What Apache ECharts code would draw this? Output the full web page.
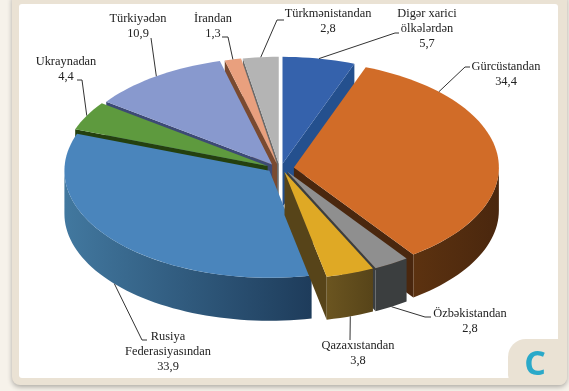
<!DOCTYPE html>
<html><head><meta charset="utf-8">
<style>html,body{margin:0;padding:0;background:#f6f2ea}#c{width:569px;height:391px}</style>
<script src="https://cdn.jsdelivr.net/npm/echarts@6/dist/echarts.min.js"></script>
</head><body><div id="c"></div>
<script>
const categories = ["Digər xarici\nölkələrdən","Gürcüstandan","Özbəkistandan","Qazaxıstandan","Rusiya\nFederasiyasından","Ukraynadan","Türkiyədən","İrandan","Türkmənistandan"];
const values = [5.7,34.4,2.8,3.8,33.9,4.4,10.9,1.3,2.8];
const valueLabels = ["5,7","34,4","2,8","3,8","33,9","4,4","10,9","1,3","2,8"];

const topColors = ["#3562ac","#d16c28","#8f8f8f","#dfa925","#4a85bc","#5e9a3e","#8899ce","#e9a07e","#b4b4b4"];
const wallColors = [["#24508e","#24508e"],["#5c3210","#4a270e"],["#3b3e3f","#3b3e3f"],["#6b5520","#574419"],["#42789f","#1e3c5b"],["#24400f","#24400f"],["#3d4a75","#3d4a75"],["#7a4a30","#7a4a30"],["#6a6a6a","#6a6a6a"]];
// geometry of the projected pie
const P = {cx:280,cy:168,a:205,b:107,depth:43,ex:14,ey:4.2};
// label placement: text centre, first line y, leader elbow points, optional anchor angle on the rim
const labelLayout = [
 {x:427,y:14,path:[[395,33],[399,33]]},
 {x:506,y:67,path:[[465,67],[470,67]],anchor:45},
 {x:470,y:314,path:[[425,317],[431,317]]},
 {x:358,y:346,path:[[350,340]]},
 {x:168,y:337,path:[[142,340],[147,340]]},
 {x:66,y:62,path:[[82,80],[77,80]]},
 {x:138,y:19,path:[[151,38]]},
 {x:213,y:19,path:[[228,37],[222,37]]},
 {x:328,y:14,path:[[277,20],[284,20]]}
];

const total = values.reduce((s,v)=>s+v,0);
const rad = d=>d*Math.PI/180;
let acc = 0;
const slices = values.map((v,i)=>{
  const t0 = acc/total*360; acc += v; const t1 = acc/total*360; const mid=(t0+t1)/2;
  return {i,t0,t1,mid,ax:P.cx+P.ex*Math.sin(rad(mid)),ay:P.cy-P.ey*Math.cos(rad(mid))};
});
const pt = (s,t,dy)=>[s.ax+P.a*Math.sin(rad(t)), s.ay-P.b*Math.cos(rad(t))+(dy||0)];
const arc = (s,t0,t1,dy)=>{const r=[];const n=Math.max(2,Math.ceil((t1-t0)/2));for(let k=0;k<=n;k++)r.push(pt(s,t0+(t1-t0)*k/n,dy));return r;};
const order = slices.slice().sort((p,q)=>Math.cos(rad(q.mid))-Math.cos(rad(p.mid)));

function renderSlice(params,api){
  const s = order[params.dataIndex], ch=[], d=P.depth, w=wallColors[s.i];
  const apex=[s.ax,s.ay], apexB=[s.ax,s.ay+d];
  const poly=(points,fill)=>ch.push({type:'polygon',shape:{points},style:{fill},silent:true});
  if(Math.sin(rad(s.t0))<0){const a=pt(s,s.t0);poly([apex,a,[a[0],a[1]+d],apexB],w[0]);}
  if(Math.sin(rad(s.t1))>0){const a=pt(s,s.t1);poly([apex,a,[a[0],a[1]+d],apexB],w[1]);}
  const r0=Math.max(s.t0,90), r1=Math.min(s.t1,270);
  if(r1>r0){
    const top=arc(s,r0,r1), bot=arc(s,r0,r1,d).reverse();
    poly(top.concat(bot),new echarts.graphic.LinearGradient(0,0,1,0,[{offset:0,color:w[0]},{offset:1,color:w[1]}]));
  }
  poly([apex].concat(arc(s,s.t0,s.t1)),topColors[s.i]);
  return {type:'group',children:ch};
}
function renderLabel(params,api){
  const i=params.dataIndex, s=slices[i], L=labelLayout[i];
  const t=L.anchor!==undefined?L.anchor:s.mid;
  const front=Math.cos(rad(t))<0;
  const start=pt(s,t,front?P.depth:0);
  const lines=categories[i].split("\n").concat([valueLabels[i]]);
  const ch=[{type:'polyline',shape:{points:[start].concat(L.path)},style:{stroke:'#333',lineWidth:1,fill:null},silent:true}];
  lines.forEach((tx,k)=>ch.push({type:'text',style:{text:tx,x:L.x,y:L.y+k*14.7,align:'center',verticalAlign:'middle',font:'12.4px "Liberation Serif"',fill:'#222'},silent:true}));
  return {type:'group',children:ch};
}
const chart = echarts.init(document.getElementById('c'),null,{renderer:'canvas'});
chart.setOption({
  animation:false,
  backgroundColor:'#f6f2ea',
  graphic:{elements:[
    {type:'rect',z:0,shape:{x:12,y:-8,width:555,height:393,r:8},style:{fill:'#eae2d4',shadowBlur:5,shadowColor:'rgba(0,0,0,0.3)',shadowOffsetY:2},silent:true},
    {type:'rect',z:1,shape:{x:19,y:4,width:539,height:374,r:3},style:{fill:'#ffffff'},silent:true},
    {type:'rect',z:2,shape:{x:508,y:339,width:59,height:46,r:[18,8,8,10]},style:{fill:'#eae2d4'},silent:true},
    {type:'text',z:3,style:{text:'C',x:535,y:365,align:'center',verticalAlign:'middle',font:'bold 34px "Open Sans"',fill:'#2aa9c9'},silent:true}
  ]},
  series:[
    {type:'custom',coordinateSystem:'none',z:5,renderItem:renderSlice,data:order.map(s=>values[s.i]),silent:true},
    {type:'custom',coordinateSystem:'none',z:6,renderItem:renderLabel,data:values.slice(),silent:true}
  ]
});
</script></body></html>
